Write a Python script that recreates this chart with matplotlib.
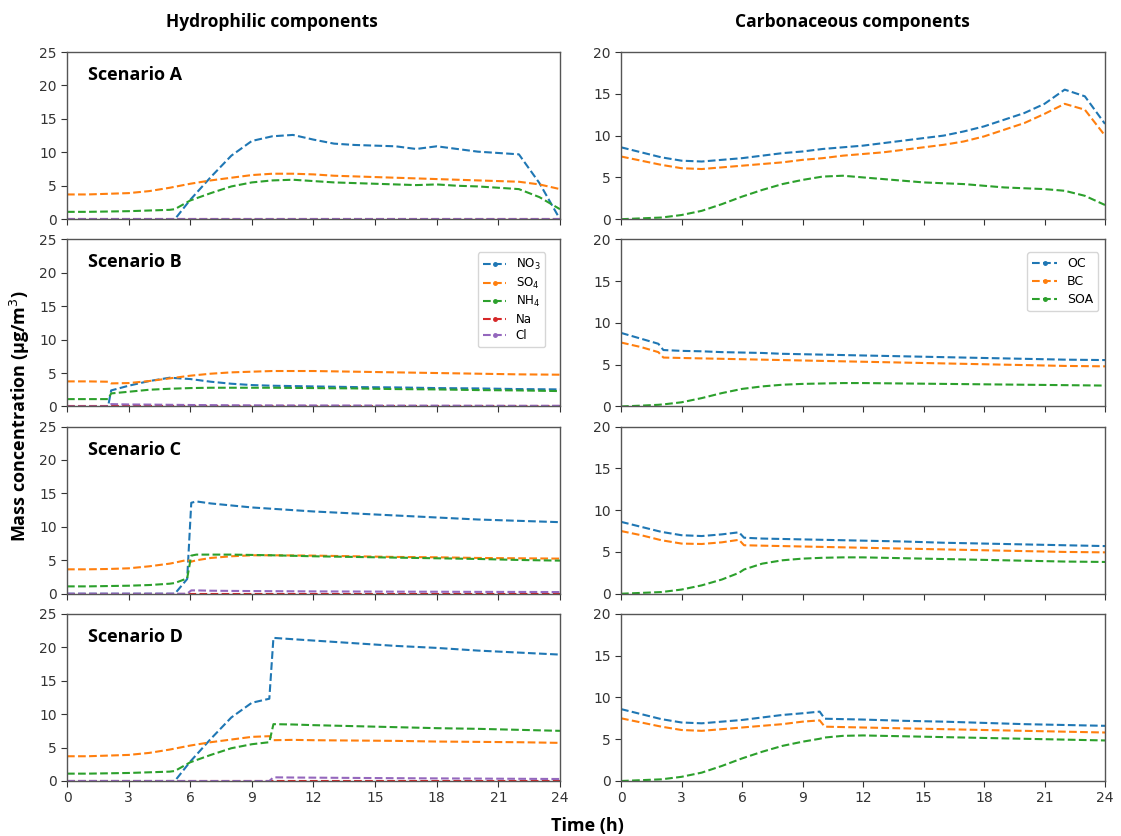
import numpy as np
import matplotlib
matplotlib.use("Agg")
import matplotlib.pyplot as plt
from matplotlib.lines import Line2D

# ---- donnees ----
hours_ticks = [0, 3, 6, 9, 12, 15, 18, 21, 24]
scenarios = ["Scenario A", "Scenario B", "Scenario C", "Scenario D"]
hydro_names = ["NO$_3$", "SO$_4$", "NH$_4$", "Na", "Cl"]
carb_names = ["OC", "BC", "SOA"]

# Scenario A
tA_h = [0, 1, 2, 3, 4, 5, 5.25, 6, 7, 8, 9, 10, 11, 12, 13, 14, 15, 16, 17, 18, 19, 20, 21, 22, 23, 24]
no3_A = [0, 0, 0, 0, 0, 0, 0, 2.9, 6.3, 9.5, 11.7, 12.4, 12.6, 11.9, 11.3, 11.1, 11.0, 10.9, 10.5, 10.9, 10.5, 10.1, 9.9, 9.7, 5.4, 0]
so4_A = [3.7, 3.7, 3.8, 3.9, 4.2, 4.7, 4.85, 5.3, 5.8, 6.2, 6.6, 6.8, 6.8, 6.7, 6.5, 6.4, 6.3, 6.2, 6.1, 6.0, 5.9, 5.8, 5.7, 5.6, 5.2, 4.5]
nh4_A = [1.1, 1.1, 1.15, 1.2, 1.3, 1.4, 1.5, 2.8, 3.9, 4.9, 5.5, 5.8, 5.9, 5.7, 5.5, 5.4, 5.3, 5.2, 5.1, 5.2, 5.0, 4.9, 4.7, 4.5, 3.3, 1.5]
na_A = [0] * 26
cl_A = [0] * 26

tA_c = [0, 1, 2, 3, 4, 5, 6, 7, 8, 9, 10, 11, 12, 13, 14, 15, 16, 17, 18, 19, 20, 21, 22, 23, 24]
oc_A = [8.6, 8.0, 7.4, 7.0, 6.9, 7.1, 7.3, 7.6, 7.9, 8.1, 8.4, 8.6, 8.8, 9.1, 9.4, 9.7, 10.0, 10.5, 11.1, 11.9, 12.7, 13.8, 15.5, 14.7, 11.4]
bc_A = [7.5, 7.0, 6.5, 6.1, 6.0, 6.2, 6.4, 6.6, 6.8, 7.1, 7.3, 7.6, 7.8, 8.0, 8.3, 8.6, 8.9, 9.3, 9.9, 10.7, 11.5, 12.6, 13.8, 13.1, 10.0]
soa_A = [0.0, 0.1, 0.2, 0.5, 1.0, 1.8, 2.7, 3.5, 4.2, 4.7, 5.1, 5.2, 5.0, 4.8, 4.6, 4.4, 4.3, 4.2, 4.0, 3.8, 3.7, 3.6, 3.4, 2.8, 1.7]

# Scenario B
tB_h = [0, 1, 2, 2.15, 3, 4, 5, 6, 7, 8, 9, 10, 12, 14, 16, 18, 20, 22, 24]
no3_B = [0, 0, 0, 2.4, 3.1, 3.8, 4.3, 4.1, 3.7, 3.4, 3.2, 3.1, 3.0, 2.9, 2.85, 2.75, 2.7, 2.6, 2.55]
so4_B = [3.75, 3.75, 3.7, 3.45, 3.5, 3.8, 4.2, 4.6, 4.9, 5.1, 5.2, 5.3, 5.3, 5.2, 5.1, 5.0, 4.9, 4.8, 4.75]
nh4_B = [1.1, 1.1, 1.1, 1.95, 2.2, 2.5, 2.65, 2.75, 2.8, 2.8, 2.8, 2.8, 2.75, 2.7, 2.6, 2.55, 2.45, 2.4, 2.3]
na_B = [0] * 19
cl_B = [0, 0, 0, 0.35, 0.3, 0.28, 0.25, 0.22, 0.2, 0.18, 0.17, 0.16, 0.15, 0.14, 0.13, 0.12, 0.11, 0.1, 0.1]

tB_c = [0, 1, 1.85, 2.1, 3, 4, 5, 6, 7, 8, 9, 10, 11, 12, 14, 16, 18, 20, 22, 24]
oc_B = [8.8, 8.1, 7.5, 6.75, 6.65, 6.6, 6.5, 6.45, 6.4, 6.3, 6.25, 6.2, 6.15, 6.1, 6.0, 5.9, 5.8, 5.7, 5.6, 5.55]
bc_B = [7.65, 7.1, 6.5, 5.85, 5.8, 5.75, 5.7, 5.65, 5.6, 5.55, 5.5, 5.45, 5.4, 5.35, 5.25, 5.15, 5.05, 4.95, 4.85, 4.8]
soa_B = [0.0, 0.1, 0.2, 0.25, 0.5, 1.0, 1.6, 2.1, 2.4, 2.6, 2.7, 2.75, 2.8, 2.8, 2.75, 2.7, 2.65, 2.6, 2.55, 2.5]

# Scenario C
tC_h = [0, 1, 2, 3, 4, 5, 5.25, 5.85, 6.05, 6.3, 7, 8, 9, 10, 12, 14, 16, 18, 20, 22, 24]
no3_C = [0, 0, 0, 0, 0, 0, 0, 2.2, 13.6, 13.8, 13.5, 13.2, 12.9, 12.7, 12.3, 12.0, 11.7, 11.4, 11.1, 10.9, 10.7]
so4_C = [3.65, 3.65, 3.7, 3.8, 4.1, 4.5, 4.65, 5.05, 4.8, 5.0, 5.35, 5.6, 5.75, 5.75, 5.7, 5.6, 5.5, 5.45, 5.35, 5.3, 5.25]
nh4_C = [1.1, 1.1, 1.15, 1.2, 1.3, 1.5, 1.6, 2.3, 5.7, 5.85, 5.85, 5.85, 5.8, 5.75, 5.6, 5.5, 5.4, 5.3, 5.2, 5.05, 4.95]
na_C = [0] * 21
cl_C = [0, 0, 0, 0, 0, 0, 0, 0, 0.5, 0.5, 0.45, 0.42, 0.4, 0.38, 0.35, 0.33, 0.31, 0.3, 0.28, 0.27, 0.25]

tC_c = [0, 1, 2, 3, 4, 5, 5.85, 6.1, 7, 8, 9, 10, 11, 12, 14, 16, 18, 20, 22, 24]
oc_C = [8.6, 8.0, 7.4, 7.0, 6.9, 7.1, 7.35, 6.7, 6.6, 6.55, 6.5, 6.45, 6.4, 6.35, 6.25, 6.1, 6.0, 5.9, 5.8, 5.7]
bc_C = [7.5, 7.0, 6.4, 6.0, 5.95, 6.15, 6.45, 5.8, 5.75, 5.7, 5.65, 5.6, 5.55, 5.5, 5.4, 5.3, 5.2, 5.1, 5.0, 4.95]
soa_C = [0.0, 0.1, 0.2, 0.5, 1.0, 1.7, 2.5, 2.9, 3.6, 4.0, 4.2, 4.3, 4.35, 4.35, 4.25, 4.15, 4.05, 3.95, 3.85, 3.8]

# Scenario D
tD_h = [0, 1, 2, 3, 4, 5, 5.25, 6, 7, 8, 9, 9.85, 10.05, 11, 12, 14, 16, 18, 20, 22, 24]
no3_D = [0, 0, 0, 0, 0, 0, 0, 2.9, 6.3, 9.5, 11.7, 12.3, 21.4, 21.2, 21.0, 20.6, 20.2, 19.9, 19.5, 19.2, 18.9]
so4_D = [3.7, 3.7, 3.8, 3.9, 4.2, 4.7, 4.85, 5.3, 5.8, 6.2, 6.6, 6.7, 6.1, 6.15, 6.1, 6.05, 6.0, 5.9, 5.85, 5.8, 5.7]
nh4_D = [1.1, 1.1, 1.15, 1.2, 1.3, 1.4, 1.5, 2.8, 3.9, 4.9, 5.5, 5.8, 8.5, 8.45, 8.35, 8.2, 8.05, 7.9, 7.8, 7.65, 7.5]
na_D = [0] * 21
cl_D = [0] * 12 + [0.55, 0.52, 0.5, 0.46, 0.42, 0.39, 0.36, 0.33, 0.3]

tD_c = [0, 1, 2, 3, 4, 5, 6, 7, 8, 9, 9.85, 10.1, 11, 12, 14, 16, 18, 20, 22, 24]
oc_D = [8.6, 8.0, 7.4, 7.0, 6.9, 7.1, 7.3, 7.6, 7.9, 8.1, 8.3, 7.45, 7.4, 7.35, 7.2, 7.1, 6.95, 6.8, 6.7, 6.6]
bc_D = [7.5, 7.0, 6.5, 6.1, 6.0, 6.2, 6.4, 6.6, 6.8, 7.1, 7.25, 6.5, 6.45, 6.4, 6.3, 6.2, 6.1, 6.0, 5.9, 5.8]
soa_D = [0.0, 0.1, 0.2, 0.5, 1.0, 1.8, 2.7, 3.5, 4.2, 4.7, 5.05, 5.2, 5.4, 5.45, 5.35, 5.25, 5.15, 5.05, 4.95, 4.85]

hydro = [
    (tA_h, [no3_A, so4_A, nh4_A, na_A, cl_A]),
    (tB_h, [no3_B, so4_B, nh4_B, na_B, cl_B]),
    (tC_h, [no3_C, so4_C, nh4_C, na_C, cl_C]),
    (tD_h, [no3_D, so4_D, nh4_D, na_D, cl_D]),
]
carb = [
    (tA_c, [oc_A, bc_A, soa_A]),
    (tB_c, [oc_B, bc_B, soa_B]),
    (tC_c, [oc_C, bc_C, soa_C]),
    (tD_c, [oc_D, bc_D, soa_D]),
]

couleurs = ["#1f77b4", "#ff7f0e", "#2ca02c", "#d62728", "#9467bd"]
titre_font = "Open Sans"

fig, axes = plt.subplots(4, 2, figsize=(11.21, 8.36), dpi=100,
                         gridspec_kw=dict(width_ratios=[493, 484]))
fig.subplots_adjust(left=67 / 1121, right=1105 / 1121, top=1 - 52 / 836,
                    bottom=1 - 781 / 836, hspace=0.12, wspace=0.125)


def style_axe(ax, ymax, ystep, bas):
    ax.set_xlim(0, 24)
    ax.set_ylim(0, ymax)
    ax.set_xticks(hours_ticks)
    ax.set_yticks(np.arange(0, ymax + 1, ystep))
    ax.tick_params(labelsize=10, colors="#333333", length=4, width=0.8)
    if not bas:
        ax.tick_params(labelbottom=False)
    for s in ax.spines.values():
        s.set_color("#555555")
        s.set_linewidth(1.0)


for i in range(4):
    ax = axes[i, 0]
    t, series = hydro[i]
    for j, y in enumerate(series):
        ax.plot(t, y, ls="--", color=couleurs[j], lw=1.5)
    style_axe(ax, 25, 5, i == 3)
    ax.text(0.043, 0.862, scenarios[i], transform=ax.transAxes, ha="left",
            va="center", fontsize=13, fontweight="bold", family=titre_font)

    ax = axes[i, 1]
    t, series = carb[i]
    for j, y in enumerate(series):
        ax.plot(t, y, ls="--", color=couleurs[j], lw=1.5)
    style_axe(ax, 20, 5, i == 3)

# legendes (panneaux B)
h1 = [Line2D([], [], ls="--", marker=".", markersize=5, color=couleurs[j], lw=1.5) for j in range(5)]
axes[1, 0].legend(h1, hydro_names, loc="upper right", bbox_to_anchor=(0.97, 0.922),
                  borderaxespad=0, fontsize=8.5, handlelength=2.0, labelspacing=0.3)
h2 = [Line2D([], [], ls="--", marker=".", markersize=5, color=couleurs[j], lw=1.5) for j in range(3)]
axes[1, 1].legend(h2, carb_names, loc="upper right", bbox_to_anchor=(0.986, 0.922),
                  borderaxespad=0, fontsize=9, handlelength=2.0, labelspacing=0.4)

fig.text(272 / 1121, 1 - 22 / 836, "Hydrophilic components", ha="center", va="center",
         fontsize=12.5, fontweight="bold", family=titre_font)
fig.text(852 / 1121, 1 - 22 / 836, "Carbonaceous components", ha="center", va="center",
         fontsize=12.5, fontweight="bold", family=titre_font)
fig.text(20 / 1121, 0.5 * ((1 - 52 / 836) + (1 - 781 / 836)), "Mass concentration (µg/m$^3$)",
         rotation=90, ha="center", va="center", fontsize=13, fontweight="bold", family=titre_font)
fig.text(587 / 1121, 1 - 826 / 836, "Time (h)", ha="center", va="center",
         fontsize=13, fontweight="bold", family=titre_font)

fig.savefig("out.png", dpi=100)
